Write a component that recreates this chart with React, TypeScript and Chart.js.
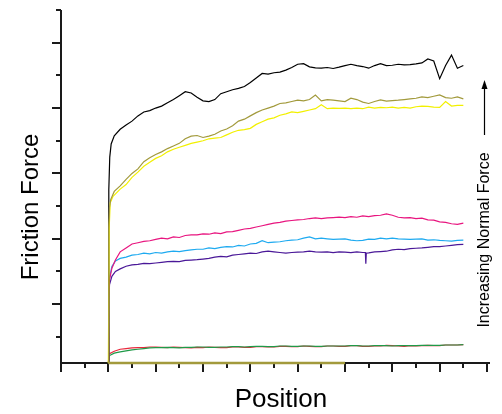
import React, { useEffect, useRef } from "react";
import { Chart, registerables } from "chart.js";
Chart.register(...registerables);

// shared position grid (body of every curve)
const POS = [2.5, 2.75, 3, 3.25, 3.5, 3.75, 4, 4.25, 4.5, 4.75, 5, 5.25, 5.5, 5.75, 6, 6.25, 6.5, 6.75, 7, 7.25, 7.5, 7.75, 8, 8.25, 8.5, 8.75, 9, 9.25, 9.5, 9.75, 10, 10.25, 10.5, 10.75, 11, 11.25, 11.5, 11.75, 12, 12.25, 12.5, 12.75, 13, 13.25, 13.5, 13.75, 14, 14.25, 14.5, 14.75, 15, 15.25, 15.5, 15.75, 16, 16.25, 16.5, 16.75, 17];

const blackStartX = [2.0, 2.02, 2.06, 2.12, 2.25];
const blackStartY = [-0.8, 4.5, 5.5, 5.9, 6.15];
const blackY = [6.35, 6.48, 6.6, 6.76, 6.88, 6.92, 7.0, 7.06, 7.16, 7.26, 7.38, 7.5, 7.46, 7.33, 7.22, 7.2, 7.26, 7.44, 7.5, 7.56, 7.6, 7.66, 7.78, 7.92, 8.06, 8.04, 8.08, 8.1, 8.16, 8.24, 8.34, 8.36, 8.26, 8.23, 8.22, 8.24, 8.21, 8.25, 8.3, 8.34, 8.3, 8.27, 8.22, 8.3, 8.36, 8.3, 8.31, 8.34, 8.32, 8.33, 8.35, 8.38, 8.5, 8.44, 7.9, 8.3, 8.62, 8.22, 8.3];

const oliveStartX = [2.0, 2.02, 2.05, 2.1, 2.25];
const oliveStartY = [-0.8, 3.3, 3.96, 4.2, 4.45];
const oliveY = [4.62, 4.82, 5.0, 5.14, 5.36, 5.48, 5.58, 5.66, 5.76, 5.84, 5.92, 6.06, 6.14, 6.16, 6.1, 6.14, 6.2, 6.3, 6.36, 6.46, 6.6, 6.66, 6.76, 6.86, 6.94, 7.0, 7.06, 7.14, 7.16, 7.2, 7.24, 7.22, 7.26, 7.4, 7.22, 7.26, 7.24, 7.22, 7.2, 7.3, 7.26, 7.18, 7.14, 7.2, 7.25, 7.21, 7.23, 7.24, 7.26, 7.28, 7.3, 7.34, 7.32, 7.36, 7.4, 7.32, 7.3, 7.34, 7.28];

const yellowStartX = [2.0, 2.04, 2.08, 2.2];
const yellowStartY = [-0.8, 3.4, 4.1, 4.3];
const yellowY = [4.52, 4.66, 4.88, 5.04, 5.22, 5.34, 5.46, 5.54, 5.66, 5.74, 5.8, 5.86, 5.92, 5.96, 6.0, 6.06, 6.08, 6.1, 6.18, 6.26, 6.32, 6.34, 6.38, 6.5, 6.58, 6.66, 6.7, 6.78, 6.82, 6.88, 6.86, 6.9, 6.94, 6.98, 7.1, 6.98, 7.0, 6.99, 7.0, 6.98, 7.0, 6.98, 7.03, 7.0, 7.02, 7.01, 7.03, 7.0, 7.02, 7.0, 7.04, 7.06, 7.05, 7.03, 7.02, 7.2, 7.06, 7.08, 7.08];

const magentaStartX = [2.0, 2.02, 2.05, 2.15, 2.3];
const magentaStartY = [-0.8, 1.2, 1.75, 2.1, 2.35];
const magentaY = [2.6, 2.72, 2.84, 2.88, 2.92, 2.94, 2.98, 3.02, 3.0, 3.06, 3.04, 3.1, 3.12, 3.12, 3.15, 3.14, 3.18, 3.16, 3.21, 3.22, 3.26, 3.3, 3.32, 3.36, 3.4, 3.44, 3.48, 3.5, 3.54, 3.56, 3.58, 3.59, 3.62, 3.64, 3.62, 3.64, 3.65, 3.66, 3.65, 3.68, 3.66, 3.7, 3.68, 3.71, 3.72, 3.76, 3.72, 3.66, 3.64, 3.65, 3.62, 3.63, 3.58, 3.57, 3.52, 3.5, 3.46, 3.44, 3.48];

const cyanStartX = [2.0, 2.02, 2.05, 2.15, 2.3];
const cyanStartY = [-0.8, 1.0, 1.8, 2.15, 2.32];
const cyanY = [2.4, 2.44, 2.5, 2.52, 2.56, 2.54, 2.58, 2.56, 2.6, 2.62, 2.61, 2.64, 2.66, 2.68, 2.68, 2.72, 2.7, 2.74, 2.76, 2.75, 2.8, 2.78, 2.84, 2.86, 2.94, 2.88, 2.9, 2.91, 2.94, 2.96, 2.97, 3.02, 3.06, 3.0, 3.02, 3.0, 2.98, 2.99, 3.0, 2.96, 2.94, 2.95, 2.99, 2.98, 3.02, 3.0, 3.02, 3.0, 2.99, 2.98, 2.99, 3.0, 2.96, 2.97, 2.95, 2.94, 2.93, 2.95, 2.96];

const purpleStartX = [2.0, 2.02, 2.05, 2.15, 2.3];
const purpleStartY = [-0.8, 1.1, 1.6, 1.85, 2.0];
const purpleY = [2.08, 2.16, 2.2, 2.22, 2.25, 2.24, 2.26, 2.28, 2.3, 2.31, 2.3, 2.34, 2.35, 2.36, 2.38, 2.4, 2.44, 2.46, 2.45, 2.5, 2.52, 2.54, 2.56, 2.55, 2.6, 2.62, 2.6, 2.58, 2.56, 2.58, 2.59, 2.6, 2.62, 2.6, 2.59, 2.6, 2.58, 2.6, 2.59, 2.58, 2.6, 2.58, 2.57, 2.6, 2.61, 2.62, 2.66, 2.68, 2.67, 2.7, 2.71, 2.72, 2.74, 2.76, 2.76, 2.78, 2.8, 2.82, 2.83];
const purpleSpikeX = [12.86, 12.88, 12.9];
const purpleSpikeY = [2.58, 2.24, 2.56];

const redStartX = [2.0, 2.03, 2.25];
const redStartY = [-0.8, -0.52, -0.44];
const redY = [-0.38, -0.36, -0.34, -0.33, -0.33, -0.31, -0.31, -0.32, -0.33, -0.31, -0.32, -0.33, -0.34, -0.32, -0.33, -0.31, -0.32, -0.33, -0.33, -0.31, -0.31, -0.32, -0.32, -0.3, -0.3, -0.31, -0.31, -0.29, -0.29, -0.3, -0.3, -0.28, -0.29, -0.3, -0.3, -0.28, -0.28, -0.29, -0.29, -0.27, -0.27, -0.29, -0.29, -0.28, -0.28, -0.26, -0.27, -0.28, -0.29, -0.27, -0.28, -0.27, -0.26, -0.27, -0.27, -0.25, -0.25, -0.25, -0.24];

const greenStartX = [2.0, 2.03, 2.25];
const greenStartY = [-0.8, -0.58, -0.5];
const greenY = [-0.46, -0.43, -0.4, -0.38, -0.36, -0.34, -0.33, -0.33, -0.32, -0.33, -0.34, -0.32, -0.32, -0.31, -0.31, -0.32, -0.32, -0.31, -0.31, -0.3, -0.3, -0.31, -0.3, -0.29, -0.29, -0.3, -0.3, -0.28, -0.28, -0.29, -0.29, -0.28, -0.28, -0.29, -0.29, -0.28, -0.28, -0.28, -0.28, -0.27, -0.27, -0.28, -0.28, -0.27, -0.27, -0.27, -0.28, -0.27, -0.27, -0.27, -0.27, -0.26, -0.26, -0.26, -0.26, -0.25, -0.25, -0.25, -0.24];

const baselineX = [2.0, 12.0];
const baselineY = [-0.8, -0.8];

const Y_TICKS = [0, 1, 2, 3, 4, 5, 6, 7, 8, 9, 10];
const X_TICKS = [0, 1, 2, 3, 4, 5, 6, 7, 8, 9, 10, 11, 12, 13, 14, 15, 16, 17, 18];

const Y_TITLE = "Friction Force";
const X_TITLE = "Position";
const NOTE = "Increasing Normal Force";

function pts(sx: number[], sy: number[], body: number[], ex: number[] = [], ey: number[] = []) {
  const out: { x: number; y: number }[] = [];
  sx.forEach((x, i) => out.push({ x, y: sy[i] }));
  POS.forEach((x, i) => out.push({ x, y: body[i] }));
  ex.forEach((x, i) => out.push({ x, y: ey[i] }));
  out.sort((a, b) => a.x - b.x);
  return out;
}

const FONT = "'Liberation Sans', Arial, Helvetica, sans-serif";

const decorPlugin = {
  id: "decor",
  beforeDatasetsDraw(chart: any) {
    const { ctx, chartArea, scales } = chart;
    const { left, right, top, bottom } = chartArea;
    const xs = scales.x;
    const ys = scales.y;
    ctx.save();
    ctx.strokeStyle = "#1a1a1a";
    ctx.lineWidth = 2;
    ctx.lineCap = "butt";
    ctx.beginPath();
    ctx.moveTo(left, top);
    ctx.lineTo(left, bottom + 1);
    ctx.moveTo(left - 1, bottom);
    ctx.lineTo(right + 3, bottom);
    ctx.stroke();
    ctx.beginPath();
    Y_TICKS.forEach((v) => {
      const py = Math.round(ys.getPixelForValue(v));
      const len = v % 2 === 1 ? 9 : 5;
      ctx.moveTo(left - len, py);
      ctx.lineTo(left, py);
    });
    X_TICKS.forEach((v) => {
      const px = Math.round(xs.getPixelForValue(v));
      const len = v % 2 === 0 ? 9 : 5;
      ctx.moveTo(px, bottom);
      ctx.lineTo(px, bottom + len);
    });
    ctx.stroke();
    ctx.restore();
  },
  afterDraw(chart: any) {
    const { ctx } = chart;
    ctx.save();
    ctx.fillStyle = "#000";
    ctx.textAlign = "center";
    ctx.textBaseline = "middle";
    // y title
    ctx.save();
    ctx.translate(31, 207);
    ctx.rotate(-Math.PI / 2);
    ctx.font = `24px ${FONT}`;
    ctx.fillText(Y_TITLE, 0, 0);
    ctx.restore();
    // x title
    ctx.font = `26px ${FONT}`;
    ctx.fillText(X_TITLE, 281, 400);
    // note
    ctx.save();
    ctx.translate(485, 240);
    ctx.rotate(-Math.PI / 2);
    ctx.font = `16px ${FONT}`;
    ctx.fillText(NOTE, 0, 0);
    ctx.restore();
    // arrow
    ctx.strokeStyle = "#000";
    ctx.lineWidth = 1.2;
    ctx.beginPath();
    ctx.moveTo(484.5, 135);
    ctx.lineTo(484.5, 86);
    ctx.stroke();
    ctx.beginPath();
    ctx.moveTo(484.5, 80);
    ctx.lineTo(481.5, 89);
    ctx.lineTo(487.5, 89);
    ctx.closePath();
    ctx.fill();
    ctx.restore();
  },
};

export default function App() {
  const ref = useRef<HTMLCanvasElement>(null);
  useEffect(() => {
    if (!ref.current) return;
    const ds = (label: string, data: any, color: string, w = 1.2) => ({
      label,
      data,
      borderColor: color,
      backgroundColor: color,
      borderWidth: w,
      pointRadius: 0,
      tension: 0,
      clip: false,
      fill: false,
    });
    const chart = new Chart(ref.current, {
      type: "line",
      data: {
        datasets: [
          ds("baseline", baselineX.map((x, i) => ({ x, y: baselineY[i] })), "#a29a3c", 2.5),
          ds("olive", pts(oliveStartX, oliveStartY, oliveY), "#a29a3c"),
          ds("yellow", pts(yellowStartX, yellowStartY, yellowY), "#f2f000"),
          ds("black", pts(blackStartX, blackStartY, blackY), "#000000"),
          ds("magenta", pts(magentaStartX, magentaStartY, magentaY), "#e8157f"),
          ds("cyan", pts(cyanStartX, cyanStartY, cyanY), "#1eaaf0"),
          ds("purple", pts(purpleStartX, purpleStartY, purpleY, purpleSpikeX, purpleSpikeY), "#4a1898"),
          ds("green", pts(greenStartX, greenStartY, greenY), "#1f9a48"),
          ds("red", pts(redStartX, redStartY, redY), "#e8283c"),
        ],
      },
      options: {
        responsive: false,
        animation: false,
        devicePixelRatio: 1,
        layout: { padding: { left: 61, right: 15, top: 10, bottom: 51 } },
        plugins: { legend: { display: false }, tooltip: { enabled: false } },
        scales: {
          x: { type: "linear", min: 0, max: 18, display: false },
          y: { type: "linear", min: -0.8, max: 10, display: false },
        },
      },
      plugins: [decorPlugin],
    });
    return () => chart.destroy();
  }, []);
  return (
    <div style={{ position: "absolute", left: 0, top: 0, width: 502, height: 414, background: "#fff" }}>
      <canvas ref={ref} width={502} height={414} />
    </div>
  );
}
